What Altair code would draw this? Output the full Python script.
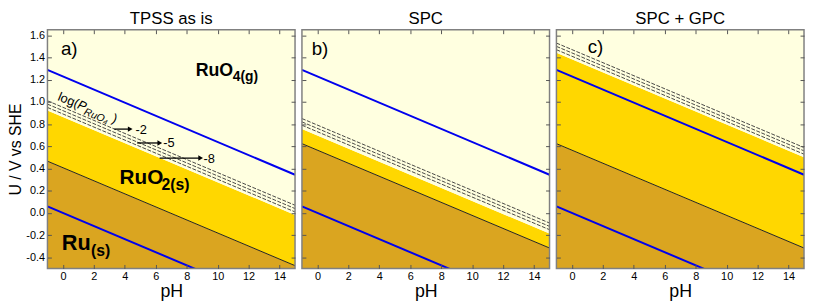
import altair as alt
import pandas as pd

FONT = "Liberation Sans"

# ---------------- data ----------------
PH_ENDS = [-1, 15]                 # x range of every panel
U_BOTTOM, U_TOP = -0.5, 1.65       # y range of every panel
X_TICKS = [0, 2, 4, 6, 8, 10, 12, 14]
Y_TICKS = [-0.4, -0.2, 0.0, 0.2, 0.4, 0.6, 0.8, 1.0, 1.2, 1.4, 1.6]

PANEL_IDS = ["a", "b", "c"]
PANEL_TITLES = ["TPSS as is", "SPC", "SPC + GPC"]
PANEL_TAGS = ["a)", "b)", "c)"]
TAG_PH = [-0.13, -0.37, 1.02]
TAG_U = [1.42, 1.42, 1.44]

# potentials at pH = -1 and at pH = 15
O2_H2O = [1.288, 0.344]            # upper blue line
H2_HPLUS = [0.059, -0.885]         # lower blue line
RU_RUO2 = {"a": [0.466, -0.475], "b": [0.624, -0.316], "c": [0.624, -0.316]}
RUO2_RUO4 = {"a": [0.923, -0.018], "b": [0.755, -0.186], "c": [1.443, 0.502]}
LOGP_M2 = {"a": [1.010, 0.069], "b": [0.850, -0.091], "c": [1.530, 0.589]}
LOGP_M5 = {"a": [0.980, 0.039], "b": [0.820, -0.121], "c": [1.500, 0.559]}
LOGP_M8 = {"a": [0.950, 0.009], "b": [0.790, -0.151], "c": [1.470, 0.529]}

REGIONS = ["Ru(s)", "RuO2(s)", "RuO4(g)"]
REGION_COLORS = ["#DAA520", "#FFD700", "#FFFFE0"]

# annotations of panel a
ARROW_START = [3.32, 4.80, 6.25]
ARROW_END = [4.35, 6.26, 8.90]
ARROW_U = [0.755, 0.630, 0.494]
ARROW_LABELS = ["-2", "-5", "-8"]
ARROW_LABEL_PH = [4.69, 6.48, 9.09]
ARROW_LABEL_U = [0.714, 0.590, 0.454]

BOLD_TEXT = ["RuO", "4(g)", "RuO", "2(s)", "Ru", "(s)"]
BOLD_PH = [8.58, 10.98, 3.66, 6.37, -0.07, 1.82]
BOLD_U = [1.232, 1.186, 0.257, 0.205, -0.330, -0.386]
BOLD_SIZE = [18, 14, 21, 16, 22, 16]

LOG_TEXT = ["log(", "P", "RuO\u2084", ")"]
LOG_PH = [-0.39, 0.88, 1.31, 3.12]
LOG_U = [1.017, 0.946, 0.888, 0.822]
LOG_SIZE = [13, 13, 10.5, 13]
LOG_STYLE = ["normal", "italic", "italic", "normal"]
LOG_ANGLE = 22

# ---------------- tables ----------------
def line_table(pid):
    rows = []
    for name, vals in [("ru", RU_RUO2[pid]), ("m2", LOGP_M2[pid]),
                       ("m5", LOGP_M5[pid]), ("m8", LOGP_M8[pid]),
                       ("ox", O2_H2O), ("red", H2_HPLUS)]:
        for ph, u in zip(PH_ENDS, vals):
            rows.append({"line": name, "pH": ph, "U": u})
    return pd.DataFrame(rows)


def area_table(pid):
    rows = []
    bounds = [[U_BOTTOM, U_BOTTOM], RU_RUO2[pid], RUO2_RUO4[pid], [U_TOP, U_TOP]]
    for k, reg in enumerate(REGIONS):
        for j, ph in enumerate(PH_ENDS):
            rows.append({"region": reg, "order": k, "pH": ph,
                         "U": bounds[k][j], "hi": bounds[k + 1][j]})
    return pd.DataFrame(rows)


xscale = alt.Scale(domain=PH_ENDS, nice=False, zero=False)
yscale = alt.Scale(domain=[U_BOTTOM, U_TOP], nice=False, zero=False)

AX_COMMON = dict(offset=-4, tickSize=4, tickColor="#555555", tickWidth=1,
                 domain=False, grid=False, zindex=1, labelFont=FONT,
                 titleFont=FONT, labelColor="black", titleColor="black",
                 titleFontWeight="normal")


def x_enc(field="pH"):
    return alt.X(f"{field}:Q", scale=xscale,
                 axis=alt.Axis(values=X_TICKS, title="pH", labelFontSize=11,
                               labelPadding=2, titleFontSize=18, titlePadding=1,
                               labelFlush=False, **AX_COMMON))


def y_enc(i, field="U"):
    if i == 0:
        ax = alt.Axis(values=Y_TICKS, title="U / V vs SHE", labelFontSize=11,
                      labelPadding=3, titleFontSize=16, titlePadding=2,
                      labelFlush=False,
                      labelExpr="(datum.value < 0 ? '-' : '') + format(abs(datum.value), '.1f')",
                      **AX_COMMON)
    else:
        ax = alt.Axis(values=Y_TICKS, title=None, labels=False, **AX_COMMON)
    return alt.Y(f"{field}:Q", scale=yscale, axis=ax)


def panel(i):
    pid = PANEL_IDS[i]
    lines = line_table(pid)
    areas = alt.Chart(area_table(pid)).mark_area(clip=True, opacity=1).encode(
        x=x_enc(), y=y_enc(i), y2="hi:Q",
        color=alt.Color("region:N", scale=alt.Scale(domain=REGIONS, range=REGION_COLORS), legend=None),
        order="order:Q",
    )
    grey = alt.Chart(lines).transform_filter(
        alt.FieldOneOfPredicate(field="line", oneOf=["m2", "m5", "m8"])
    ).mark_line(clip=True, color="#333333", strokeWidth=0.9, strokeDash=[4, 1.5]).encode(
        x=x_enc(), y=y_enc(i), detail="line:N")
    black = alt.Chart(lines).transform_filter(
        alt.FieldEqualPredicate(field="line", equal="ru")
    ).mark_line(clip=True, color="#222222", strokeWidth=1).encode(
        x=x_enc(), y=y_enc(i), detail="line:N")
    blue = alt.Chart(lines).transform_filter(
        alt.FieldOneOfPredicate(field="line", oneOf=["ox", "red"])
    ).mark_line(clip=True, color="#0000EE", strokeWidth=2).encode(
        x=x_enc(), y=y_enc(i), detail="line:N")
    tag = alt.Chart(pd.DataFrame({"pH": [TAG_PH[i]], "U": [TAG_U[i]], "t": [PANEL_TAGS[i]]})).mark_text(
        align="left", baseline="alphabetic", font=FONT, fontSize=19, color="black").encode(
        x=x_enc(), y=y_enc(i), text="t:N")
    frame = alt.Chart(alt.Data(values=[{"f": 1}])).mark_rect(
        filled=False, stroke="#808080", strokeWidth=1.5).encode(
        x=alt.value(0), x2=alt.value("width"), y=alt.value(0), y2=alt.value("height"))

    layers = [areas, grey, black, blue, tag]

    if pid == "a":
        arrows = pd.DataFrame({"pH": ARROW_START, "end": ARROW_END, "U": ARROW_U})
        rules = alt.Chart(arrows).mark_rule(color="black", strokeWidth=1.3).encode(
            x=x_enc(), x2="end:Q", y=y_enc(i))
        heads = alt.Chart(arrows).mark_point(shape="triangle-right", filled=True, color="black",
                                             size=30, opacity=1).encode(
            x=x_enc("end"), y=y_enc(i))
        alabels = alt.Chart(pd.DataFrame({"pH": ARROW_LABEL_PH, "U": ARROW_LABEL_U, "t": ARROW_LABELS})).mark_text(
            align="left", baseline="alphabetic", font=FONT, fontSize=13, color="black").encode(
            x=x_enc(), y=y_enc(i), text="t:N")
        bold = alt.Chart(pd.DataFrame({"pH": BOLD_PH, "U": BOLD_U, "t": BOLD_TEXT, "s": BOLD_SIZE})).mark_text(
            align="left", baseline="alphabetic", font=FONT, fontWeight="bold", color="black").encode(
            x=x_enc(), y=y_enc(i), text="t:N", size=alt.Size("s:Q", scale=None, legend=None))
        logdf = pd.DataFrame({"pH": LOG_PH, "U": LOG_U, "t": LOG_TEXT, "s": LOG_SIZE, "st": LOG_STYLE})
        lognorm = alt.Chart(logdf).transform_filter("datum.st == 'normal'").mark_text(
            align="left", baseline="alphabetic", font=FONT, angle=LOG_ANGLE, color="black").encode(
            x=x_enc(), y=y_enc(i), text="t:N", size=alt.Size("s:Q", scale=None, legend=None))
        logit = alt.Chart(logdf).transform_filter("datum.st == 'italic'").mark_text(
            align="left", baseline="alphabetic", font=FONT, fontStyle="italic", angle=LOG_ANGLE,
            color="black").encode(
            x=x_enc(), y=y_enc(i), text="t:N", size=alt.Size("s:Q", scale=None, legend=None))
        layers += [rules, heads, alabels, bold, lognorm, logit]

    layers.append(frame)
    main = alt.layer(*layers)

    mirror = alt.Chart(lines).transform_filter(
        alt.FieldEqualPredicate(field="line", equal="ox")
    ).mark_line(opacity=0).encode(
        x=alt.X("pH:Q", scale=xscale,
                axis=alt.Axis(orient="top", values=X_TICKS, title=None, labels=False, **AX_COMMON)),
        y=alt.Y("U:Q", scale=yscale,
                axis=alt.Axis(orient="right", values=Y_TICKS, title=None, labels=False, **AX_COMMON)),
    )

    return alt.layer(main, mirror).resolve_scale(x="independent", y="independent").properties(
        width=251, height=242,
        title=alt.TitleParams(PANEL_TITLES[i], font=FONT, fontSize=17, fontWeight="normal",
                              color="black", offset=1, anchor="middle"),
    )


chart = alt.hconcat(*[panel(i) for i in range(3)], spacing=5, padding=0).configure_view(stroke=None)

chart.save("out.html", embed_options={"renderer": "svg", "actions": False})
